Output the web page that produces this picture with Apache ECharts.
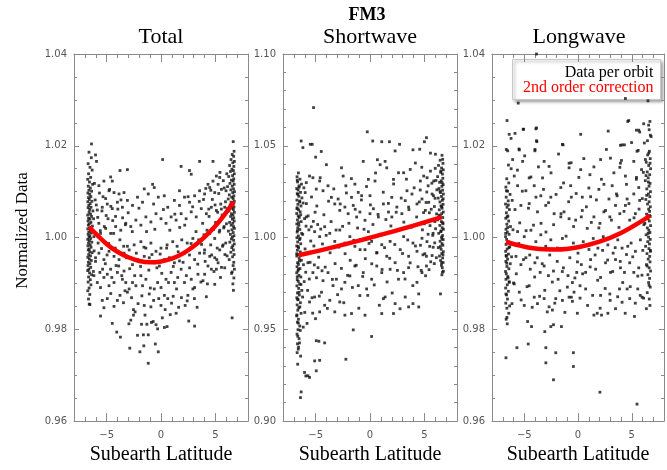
<!DOCTYPE html>
<html>
<head>
<meta charset="utf-8">
<script src="https://cdn.jsdelivr.net/npm/echarts@6/dist/echarts.min.js"></script>
<style>
  html, body { margin: 0; padding: 0; background: #fff; }
  #chart { width: 667px; height: 470px; }
</style>
</head>
<body>
<div id="chart"></div>
<script>
// ---- data -------------------------------------------------------------
const panelTitles = ['Total', 'Shortwave', 'Longwave'];
const latMajorTicks = [-5, 0, 5];
const yRanges = [
  { min: 0.96, max: 1.04, step: 0.02, minor: 4 },
  { min: 0.90, max: 1.10, step: 0.05, minor: 5 },
  { min: 0.96, max: 1.04, step: 0.02, minor: 4 }
];

// per-orbit normalized total
const totalPts = [
  [-6.62,1.0186],[-6.41,1.0174],[-6.70,1.0161],[-6.53,1.0153],[-6.33,1.0147],[-6.66,1.0139],[-6.47,1.0131],[-6.74,1.0127],
  [-6.58,1.0121],[-6.29,1.0116],[-6.69,1.0112],[-6.50,1.0108],[-6.63,1.0103],[-6.38,1.0101],[-6.72,1.0097],[-6.55,1.0094],
  [-6.45,1.0089],[-6.67,1.0087],[-6.59,1.0083],[-6.35,1.0079],[-6.73,1.0078],[-6.51,1.0074],[-6.64,1.0070],[-6.43,1.0066],
  [-6.70,1.0065],[-6.56,1.0061],[-6.26,1.0058],[-6.61,1.0055],[-6.48,1.0051],[-6.74,1.0049],[-6.39,1.0046],[-6.66,1.0042],
  [-6.53,1.0040],[-6.71,1.0036],[-6.44,1.0033],[-6.60,1.0030],[-6.68,1.0027],[-6.31,1.0025],[-6.57,1.0021],[-6.73,1.0019],
  [-6.49,1.0016],[-6.64,1.0012],[-6.40,1.0010],[-6.70,1.0007],[-6.54,1.0004],[-6.62,1.0001],[-6.46,0.9998],[-6.74,0.9996],
  [-6.58,0.9993],[-6.36,0.9990],[-6.67,0.9988],[-6.51,0.9984],[-6.72,0.9982],[-6.43,0.9979],[-6.60,0.9975],[-6.69,0.9973],
  [-6.55,0.9969],[-6.33,0.9967],[-6.65,0.9963],[-6.48,0.9960],[-6.73,0.9957],[-6.59,0.9953],[-6.41,0.9950],[-6.68,0.9946],
  [-6.53,0.9943],[-6.71,0.9939],[-6.46,0.9935],[-6.63,0.9931],[-6.74,0.9928],[-6.57,0.9923],[-6.38,0.9919],[-6.66,0.9914],
  [-6.50,0.9908],[-6.70,0.9903],[-6.44,0.9897],[-6.61,0.9890],[-6.73,0.9884],[-6.55,0.9876],[-6.67,0.9866],[-6.60,0.9855],
  [-6.12,1.0118],[-6.05,1.0082],[-6.20,1.0041],[-5.98,1.0009],[-6.15,0.9971],[-6.02,0.9948],[-6.22,0.9926],[-6.39,1.0204],
  [-6.02,1.0180],[-5.93,1.0166],
  [-1.17,0.9726],[-0.25,0.9751],[-1.94,0.9751],[-2.87,0.9759],[-3.73,0.9783],[-4.07,0.9794],[-4.48,0.9813],[-2.16,0.9787],
  [-1.17,0.9788],[-1.30,0.9811],[-1.79,0.9811],[-0.46,0.9810],[-0.31,0.9801],[0.31,0.9804],[0.56,0.9806],[3.09,0.9807],
  [6.54,0.9825],[-6.54,0.9854],[-5.56,0.9829],[-4.32,0.9850],[-2.78,0.9820],[-2.53,0.9831],[-2.53,0.9843],[-1.54,0.9852],
  [-0.93,0.9849],[-0.68,0.9863],[0.00,0.9852],[0.31,0.9874],[0.62,0.9867],[1.39,0.9835],[2.22,0.9852],[2.41,0.9862],
  [2.47,0.9874],[2.93,0.9888],[3.09,0.9891],[4.17,0.9871],[4.94,0.9898],[4.63,0.9931],[5.56,0.9935],[5.86,0.9934],
  [6.54,0.9925],[-5.25,0.9847],[-5.40,0.9863],[-4.94,0.9867],[-4.01,0.9863],[-3.77,0.9874],[-3.09,0.9881],[-2.93,0.9888],
  [-2.62,0.9902],[-2.31,0.9895],[-3.24,0.9902],[-3.55,0.9909],[-4.32,0.9902],[-4.78,0.9895],[-5.56,0.9891],[-5.86,0.9902],
  [-6.17,0.9917],[-5.62,0.9924],[-4.94,0.9920],[-5.25,0.9913],[-4.63,0.9931],[-4.01,0.9924],[-3.40,0.9927],[-1.85,0.9917],
  [-1.39,0.9909],[-1.70,0.9895],[-1.08,0.9877],[-0.62,0.9888],[-0.31,0.9902],[0.00,0.9891],[0.46,0.9909],[1.23,0.9902],
  [1.54,0.9913],[2.16,0.9902],[0.93,0.9924],[1.85,0.9931],[2.78,0.9909],[3.40,0.9920],[3.86,0.9906],[4.01,0.9920],
  [4.32,0.9938],[5.09,0.9931],[5.25,0.9945],
  [-2.62,0.9941],[-2.16,0.9952],[-1.54,0.9959],[-1.08,0.9956],[-0.62,0.9945],[-0.15,0.9938],[0.31,0.9952],[0.77,0.9956],
  [1.23,0.9945],[1.70,0.9949],[2.16,0.9966],[2.62,0.9962],[3.09,0.9952],[3.55,0.9966],[4.01,0.9973],[4.48,0.9959],
  [4.94,0.9956],[5.40,0.9973],[5.71,0.9984],[-4.32,0.9959],[-3.86,0.9952],[-3.40,0.9966],[-2.93,0.9973],[-4.78,0.9970],
  [-5.25,0.9952],[-5.71,0.9966],[-6.02,0.9956],[-3.09,0.9981],[-2.47,0.9984],[-1.85,0.9991],[-1.39,0.9977],[-0.93,0.9988],
  [-0.46,0.9970],[0.00,0.9977],[0.56,0.9984],[1.08,0.9991],[1.48,0.9981],[1.91,0.9995],[2.41,0.9988],[2.93,0.9998],
  [3.46,0.9995],[3.95,1.0006],[4.48,1.0009],[4.94,0.9998],[5.40,1.0016],[5.80,1.0024],
  [-6.17,1.0002],[-5.56,1.0009],[-5.09,1.0020],[-4.63,1.0009],[-4.17,1.0024],[-3.70,1.0016],[-3.24,1.0031],[-2.78,1.0024],
  [-2.31,1.0038],[-1.85,1.0027],[-1.39,1.0045],[-0.93,1.0034],[-0.46,1.0052],[0.00,1.0041],[0.46,1.0031],[0.93,1.0045],
  [1.39,1.0038],[1.85,1.0052],[2.31,1.0041],[2.78,1.0056],[3.24,1.0045],[3.70,1.0063],[4.17,1.0052],[4.63,1.0066],
  [5.09,1.0059],[5.49,1.0073],[5.86,1.0066],[-5.86,1.0060],[-5.40,1.0066],[-4.94,1.0073],[-4.48,1.0063],[-4.01,1.0077],
  [-3.55,1.0066],[-3.09,1.0081],[-2.62,1.0070],[-2.16,1.0088],[-1.70,1.0077],[-1.17,1.0095],[-0.68,1.0073],[-0.25,1.0088],
  [0.62,1.0066],[1.23,1.0081],[1.70,1.0070],[2.16,1.0088],[2.62,1.0077],[3.09,1.0091],[3.55,1.0102],[4.01,1.0095],
  [4.48,1.0109],[4.94,1.0098],[5.25,1.0116],[5.56,1.0105],[-5.71,1.0113],[-5.25,1.0123],[-4.78,1.0102],[-4.32,1.0098],
  [-3.86,1.0095],[-3.40,1.0098],[-1.54,1.0106],[-0.77,1.0116],[-0.62,1.0109],[1.70,1.0102],[2.78,1.0138],[2.62,1.0146],
  [4.32,1.0116],[4.78,1.0123],[5.09,1.0134],[5.40,1.0131],[0.15,1.0170],[3.55,1.0166],[4.78,1.0166],[1.85,1.0155],
  [-3.77,1.0146],[-3.09,1.0148],[-4.63,1.0132],[-4.48,1.0123],[0.30,1.0091],
  [-5.72,1.0031],[-5.47,0.9976],[-5.33,1.0089],[-5.12,0.9943],[-5.04,1.0048],[-4.81,0.9987],[-4.73,1.0105],[-4.52,0.9913],
  [-4.44,1.0037],[-4.21,0.9977],[-4.13,0.9939],[-3.97,1.0062],[-3.78,0.9995],[-3.61,0.9917],[-3.53,1.0043],[-3.31,0.9884],
  [-3.18,0.9956],[-3.02,1.0054],[-2.88,0.9932],[-2.71,0.9869],[-2.64,1.0013],[-2.42,0.9917],[-2.27,0.9966],[-2.11,0.9856],
  [-2.03,1.0064],[-1.88,0.9937],[-1.76,0.9873],[-1.57,0.9979],[-1.47,0.9831],[-1.33,1.0013],[-1.12,0.9929],[-0.98,0.9890],
  [-0.83,0.9963],[-0.72,0.9817],[-0.57,1.0018],[-0.38,0.9934],[-0.21,0.9867],[-0.08,0.9964],[0.07,0.9922],[0.22,1.0061],
  [0.38,0.9843],[0.52,0.9977],[0.69,0.9902],[0.81,1.0016],[0.97,0.9857],[1.13,0.9937],[1.27,1.0051],[1.43,0.9888],
  [1.58,0.9969],[1.72,1.0022],[1.88,0.9869],[2.03,0.9946],[2.18,1.0027],[2.33,0.9917],[2.49,1.0089],[2.63,0.9934],
  [2.77,0.9987],[2.91,1.0067],[3.07,0.9867],[3.22,1.0013],[3.38,0.9942],[3.52,1.0079],[3.67,0.9903],[3.83,1.0031],
  [3.98,0.9966],[4.12,1.0107],[4.27,0.9899],[4.42,1.0046],[4.57,0.9984],[4.72,1.0083],[4.87,0.9926],[5.02,1.0033],
  [5.17,0.9977],[5.31,1.0096],[5.47,0.9913],[5.62,1.0049],[5.73,1.0124],[5.88,0.9963],
  [-5.95,1.0071],[-5.82,1.0044],[-5.78,0.9988],[-5.66,1.0097],[-5.58,1.0015],[-5.43,1.0058],[-5.37,0.9931],[-5.21,1.0024],
  [-5.09,1.0085],[-4.96,0.9962],[-4.87,1.0041],[-4.61,1.0068],[-4.36,1.0009],[-4.18,1.0046],[-3.89,0.9938],[-3.68,1.0082],
  [-3.43,0.9981],[-3.27,1.0028],
  [5.93,1.0078],[5.81,1.0108],[5.77,1.0021],[5.66,0.9981],[5.55,1.0062],[5.42,1.0142],[5.36,1.0012],[5.21,1.0055],
  [5.13,0.9952],[4.97,1.0071],[4.83,1.0018],[4.66,0.9962],[4.58,1.0103],[4.39,1.0062],[4.23,1.0016],[4.06,0.9948],
  [3.91,1.0083],[3.73,0.9985],
  [-3.45,0.9858],[-2.95,0.9812],[-2.38,0.9838],[-1.62,0.9788],[-0.88,0.9815],[0.12,0.9825],[0.85,0.9832],[1.62,0.9848],
  [2.55,0.9818],[3.32,0.9848],[-4.62,0.9878],[-0.52,0.9768],[-1.58,0.9764],[1.12,0.9872],
  [6.64,1.0209],[6.72,1.0188],[6.55,1.0181],[6.68,1.0177],[6.44,1.0170],[6.75,1.0166],[6.60,1.0163],[6.31,1.0157],
  [6.70,1.0155],[6.52,1.0149],[6.66,1.0146],[6.39,1.0144],[6.74,1.0139],[6.58,1.0135],[6.23,1.0133],[6.69,1.0128],
  [6.47,1.0125],[6.63,1.0123],[6.34,1.0118],[6.73,1.0116],[6.55,1.0112],[6.12,1.0111],[6.67,1.0106],[6.42,1.0104],
  [6.76,1.0100],[6.59,1.0098],[6.28,1.0093],[6.70,1.0091],[6.50,1.0088],[6.64,1.0085],[6.18,1.0084],[6.74,1.0079],
  [6.44,1.0077],[6.61,1.0073],[6.36,1.0071],[6.71,1.0067],[6.53,1.0064],[6.66,1.0061],[6.25,1.0058],[6.75,1.0055],
  [6.48,1.0052],[6.62,1.0049],[6.40,1.0046],[6.69,1.0043],[6.56,1.0040],[6.73,1.0036],[6.31,1.0033],[6.60,1.0031],
  [6.45,1.0027],[6.67,1.0024],[6.75,1.0020],[6.52,1.0017],[6.20,1.0014],[6.64,1.0011],[6.38,1.0007],[6.71,1.0004],
  [6.57,1.0001],[6.47,0.9997],[6.68,0.9994],[6.33,0.9990],[6.74,0.9986],[6.60,0.9982],[6.51,0.9978],[6.66,0.9973],
  [6.42,0.9968],[6.72,0.9963],[6.58,0.9958],[6.27,0.9952],[6.69,0.9946],[6.63,0.9939],[6.75,0.9931],[6.49,0.9922],
  [6.70,0.9912],[6.61,0.9899],[6.66,0.9885],[6.05,1.0139],[5.98,1.0102],[6.10,1.0063],[6.02,1.0030],[5.95,0.9988],
  [6.08,0.9960]
];

// per-orbit normalized shortwave
const shortPts = [
  [-6.58,1.0352],[-6.71,1.0331],[-6.44,1.0318],[-6.66,1.0303],[-6.30,1.0291],[-6.52,1.0282],[-6.74,1.0267],[-6.61,1.0259],
  [-6.39,1.0246],[-6.69,1.0239],[-6.55,1.0225],[-6.26,1.0216],[-6.72,1.0204],[-6.47,1.0194],[-6.63,1.0181],[-6.35,1.0172],
  [-6.70,1.0162],[-6.57,1.0151],[-6.42,1.0140],[-6.74,1.0131],[-6.60,1.0117],[-6.50,1.0110],[-6.67,1.0096],[-6.33,1.0087],
  [-6.73,1.0074],[-6.54,1.0067],[-6.64,1.0053],[-6.45,1.0044],[-6.70,1.0030],[-6.28,1.0023],[-6.59,1.0009],[-6.72,0.9999],
  [-6.48,0.9989],[-6.65,0.9976],[-6.37,0.9966],[-6.74,0.9954],[-6.56,0.9944],[-6.68,0.9931],[-6.41,0.9922],[-6.62,0.9908],
  [-6.73,0.9899],[-6.51,0.9886],[-6.31,0.9876],[-6.66,0.9863],[-6.58,0.9854],[-6.71,0.9841],[-6.44,0.9831],[-6.63,0.9818],
  [-6.74,0.9808],[-6.53,0.9794],[-6.36,0.9785],[-6.69,0.9771],[-6.60,0.9761],[-6.47,0.9747],[-6.72,0.9737],[-6.56,0.9723],
  [-6.27,0.9712],[-6.67,0.9698],[-6.50,0.9687],[-6.73,0.9672],[-6.61,0.9661],[-6.40,0.9645],[-6.70,0.9633],[-6.55,0.9617],
  [-6.64,0.9604],[-6.34,0.9587],[-6.74,0.9573],[-6.58,0.9555],[-6.68,0.9539],[-6.46,0.9518],[-6.62,0.9498],[-6.71,0.9474],
  [-6.52,0.9449],[-6.67,0.9421],[-6.60,0.9392],[-6.38,0.9354],[-6.65,0.9310],[-6.48,0.9426],[-6.33,0.9159],[-6.39,0.9128],
  [-6.69,1.0312],[-6.52,1.0274],[-6.63,1.0236],[-6.46,1.0199],[-6.71,1.0157],[-6.37,1.0124],[-6.56,1.0081],[-6.67,1.0038],
  [-6.43,0.9996],[-6.61,0.9951],[-6.74,0.9912],[-6.49,0.9872],[-6.58,0.9827],[-6.69,0.9786],[-6.35,0.9744],[-6.53,0.9702],
  [-6.66,0.9664],[-6.45,0.9622],[-6.72,0.9578],[-6.59,0.9534],[-6.41,0.9494],[-6.64,0.9462],[-6.57,0.9403],[-6.70,0.9373],
  [-6.08,1.0271],[-6.15,1.0188],[-6.02,1.0103],[-6.19,1.0017],[-5.97,0.9938],[-6.12,0.9852],[-6.05,0.9760],[-6.20,0.9676],
  [-6.00,0.9592],[-6.14,0.9512],[-6.02,0.9265],[-5.90,0.9246],
  [-6.33,1.0526],[-6.17,1.0490],[-5.49,1.0508],[-5.31,1.0508],[-5.00,1.0438],[-4.48,1.0469],[-0.25,1.0576],[0.25,1.0526],
  [1.08,1.0522],[1.79,1.0522],[2.31,1.0472],[2.72,1.0508],[3.95,1.0478],[4.57,1.0481],[5.00,1.0522],[5.19,1.0544],
  [5.56,1.0460],[6.02,1.0454],[-5.19,1.0708],
  [-4.01,1.0397],[-2.62,1.0380],[-2.47,1.0335],[-2.22,1.0282],[-1.70,1.0219],[-1.39,1.0291],[-1.08,1.0246],[-0.77,1.0228],
  [-0.62,1.0415],[-0.15,1.0317],[0.00,1.0228],[0.46,1.0308],[0.68,1.0424],[0.93,1.0397],[1.39,1.0415],[1.54,1.0380],
  [2.00,1.0219],[2.16,1.0317],[2.62,1.0353],[3.09,1.0353],[3.40,1.0255],[3.70,1.0371],[4.17,1.0406],[4.63,1.0308],
  [4.94,1.0335],[5.25,1.0326],[5.56,1.0362],[5.86,1.0308],
  [-5.56,1.0335],[-5.86,1.0299],[-5.25,1.0326],[-4.94,1.0264],[-4.63,1.0308],[-4.32,1.0255],[-3.86,1.0282],[-3.55,1.0219],
  [-3.24,1.0183],[-2.93,1.0210],[-2.78,1.0148],[-2.31,1.0166],[-2.01,1.0130],[-1.54,1.0175],[-1.23,1.0112],[-0.93,1.0139],
  [-0.46,1.0094],[0.00,1.0130],[0.31,1.0157],[0.77,1.0112],[1.23,1.0183],[1.70,1.0139],[2.01,1.0112],[2.47,1.0166],
  [2.93,1.0130],[3.24,1.0201],[3.55,1.0166],[3.86,1.0237],[4.32,1.0183],[4.78,1.0210],[5.09,1.0148],[5.40,1.0192],
  [5.71,1.0237],
  [-5.86,1.0112],[-5.40,1.0059],[-5.09,1.0032],[-4.63,1.0005],[-4.17,1.0059],[-3.70,1.0023],[-3.24,0.9979],[-2.78,1.0041],
  [-2.31,0.9970],[-1.85,1.0005],[-1.39,0.9952],[-0.93,0.9988],[-0.46,0.9934],[-0.15,1.0032],[0.15,0.9979],[0.62,0.9916],
  [1.08,0.9961],[1.54,0.9898],[1.85,0.9979],[2.31,0.9863],[2.78,0.9934],[3.09,1.0005],[3.55,0.9898],[3.95,0.9970],
  [4.32,0.9925],[4.78,0.9996],[5.19,0.9898],[5.49,0.9952],[5.80,1.0023],
  [-5.71,0.9863],[-5.25,0.9809],[-4.78,0.9836],[-4.32,0.9765],[-3.86,0.9809],[-3.40,0.9738],[-3.09,0.9773],[-2.62,0.9720],
  [-2.31,0.9756],[-1.85,0.9791],[-1.39,0.9845],[-1.08,0.9738],[-0.62,0.9809],[-0.31,0.9720],[0.15,0.9773],[0.62,0.9845],
  [1.08,0.9809],[1.39,0.9676],[1.85,0.9827],[2.31,0.9640],[2.62,0.9773],[3.09,0.9809],[3.55,0.9836],[3.95,0.9640],
  [4.32,0.9756],[4.48,0.9693],[4.48,0.9622],[4.78,0.9809],[5.19,0.9845],[6.48,0.9693],
  [-5.56,0.9649],[-5.09,0.9676],[-4.63,0.9595],[-4.17,0.9631],[-3.70,0.9658],[-3.24,0.9595],[-2.78,0.9649],[-2.31,0.9577],
  [-1.70,0.9586],[-0.93,0.9684],[-0.46,0.9577],[1.08,0.9586],[1.23,0.9667],[2.16,0.9586],[3.24,0.9676],[3.55,0.9622],
  [-1.54,0.9497],[0.15,0.9461],[-4.94,0.9438],[-4.70,0.9435],[-4.17,0.9426],[-5.09,0.9328],[-4.63,0.9331],[-2.22,0.9337],
  [-5.71,0.9247],[-5.56,0.9238],[-4.94,0.9274],
  [-5.85,1.0185],[-5.74,0.9712],[-5.62,1.0042],[-5.51,0.9865],[-5.38,1.0221],[-5.27,0.9588],[-5.16,0.9954],[-5.05,1.0138],
  [-4.92,0.9781],[-4.81,1.0071],[-4.72,0.9893],[-4.58,1.0326],[-4.46,0.9702],[-4.37,0.9965],[-4.24,1.0124],[-4.12,0.9839],
  [-4.03,1.0012],[-3.92,0.9614],[-3.81,1.0198],[-3.67,0.9917],[-3.58,1.0087],[-3.46,0.9772],[-3.33,1.0265],[-3.21,0.9858],
  [-3.12,1.0041],[-2.98,0.9689],[-2.87,0.9948],[-2.74,1.0183],[-2.63,0.9832],[-2.52,1.0061],[-2.41,0.9645],[-2.29,0.9912],
  [-2.17,1.0243],[-2.06,0.9794],[-1.94,1.0078],[-1.82,0.9876],[-1.71,1.0321],[-1.62,0.9728],[-1.49,0.9985],[-1.36,1.0154],
  [-1.27,0.9849],[-1.14,1.0052],[-1.03,0.9615],[-0.91,0.9934],[-0.79,1.0205],[-0.67,0.9788],[-0.55,1.0045],[-0.43,0.9885],
  [-0.32,1.0278],[-0.21,0.9685],[-0.09,0.9968],[0.04,1.0178],[0.16,0.9857],[0.27,1.0071],[0.39,0.9742],[0.51,1.0352],
  [0.63,0.9918],[0.74,1.0126],[0.86,0.9631],[0.97,1.0018],[1.11,0.9826],[1.22,1.0247],[1.34,0.9945],[1.46,1.0098],
  [1.57,0.9758],[1.69,1.0186],[1.81,0.9887],[1.92,1.0063],[2.04,0.9698],[2.17,1.0292],[2.28,0.9962],[2.41,1.0138],
  [2.52,0.9821],[2.64,1.0045],[2.76,0.9612],[2.87,1.0215],[2.99,0.9913],[3.11,1.0084],[3.22,0.9774],[3.35,1.0318],
  [3.47,0.9987],[3.58,1.0152],[3.69,0.9862],[3.82,1.0057],[3.94,0.9738],[4.06,1.0271],[4.18,0.9954],[4.29,1.0112],
  [4.41,0.9841],[4.53,1.0194],[4.64,0.9958],[4.76,1.0383],[4.87,0.9906],[4.99,1.0075],[5.11,0.9792],[5.22,1.0248],
  [5.34,1.0018],[5.46,1.0135],[5.58,0.9868],[5.69,1.0296],[5.81,0.9947],[5.92,1.0169],
  [-5.96,1.0245],[-5.91,0.9811],[-5.88,1.0062],[-5.79,0.9532],[-5.69,1.0118],[-5.58,0.9774],[-5.45,0.9981],[-5.33,0.9672],
  [-5.21,1.0088],[-5.12,0.9851],[-5.01,0.9558],[-4.89,1.0172],[-4.77,0.9927],[-4.66,0.9681],[-4.53,1.0046],[-4.41,0.9819],
  [5.96,1.0087],[5.91,0.9858],[5.84,1.0228],[5.77,1.0012],[5.71,0.9902],[5.63,1.0154],[5.52,1.0065],[5.43,0.9825],
  [5.35,1.0282],[5.24,0.9978],[5.16,1.0191],[5.04,0.9912],[4.93,1.0136],[4.82,1.0042],[4.71,0.9821],[4.62,1.0259],
  [6.62,1.0448],[6.45,1.0421],[6.71,1.0404],[6.30,1.0393],[6.58,1.0379],[6.74,1.0369],[6.50,1.0355],[6.66,1.0346],
  [6.22,1.0332],[6.70,1.0323],[6.55,1.0309],[6.40,1.0301],[6.73,1.0288],[6.61,1.0279],[6.34,1.0267],[6.68,1.0258],
  [6.48,1.0245],[6.75,1.0237],[6.57,1.0224],[6.27,1.0215],[6.65,1.0203],[6.43,1.0194],[6.72,1.0181],[6.53,1.0173],
  [6.63,1.0160],[6.37,1.0151],[6.74,1.0139],[6.59,1.0130],[6.46,1.0117],[6.69,1.0109],[6.20,1.0096],[6.56,1.0087],
  [6.71,1.0075],[6.42,1.0066],[6.64,1.0053],[6.75,1.0045],[6.51,1.0032],[6.32,1.0023],[6.67,1.0011],[6.58,1.0002],
  [6.73,0.9989],[6.45,0.9980],[6.62,0.9967],[6.70,0.9958],[6.28,0.9945],[6.54,0.9936],[6.74,0.9923],[6.60,0.9913],
  [6.39,0.9899],[6.68,0.9889],[6.49,0.9875],[6.72,0.9864],[6.57,0.9848],[6.65,0.9835],[6.75,0.9816],[6.61,0.9797],
  [6.68,1.0426],[6.51,1.0362],[6.64,1.0298],[6.44,1.0252],[6.73,1.0211],[6.59,1.0168],[6.35,1.0122],[6.69,1.0081],
  [6.54,1.0036],[6.62,0.9993],[6.47,0.9951],[6.71,0.9906],[6.58,0.9862],[6.66,0.9811],
  [6.06,1.0311],[5.98,1.0214],[6.12,1.0129],[6.03,1.0048],[5.95,0.9971],[6.10,0.9890],[6.00,1.0377],[6.15,1.0260]
];

// per-orbit normalized longwave
const longPts = [
  [-6.60,1.0255],[-6.23,1.0216],[-5.86,1.0227],[-5.06,1.0236],[-3.92,1.0237],[-3.83,1.0209],[0.25,1.0225],[2.81,1.0232],
  [4.63,1.0253],[5.43,1.0234],[5.74,1.0230],[6.11,1.0248],[6.57,1.0245],[6.73,1.0223],[-1.45,1.0203],[4.10,1.0202],
  [4.32,1.0202],[5.49,1.0188],[-3.86,1.0400],[-5.56,1.0293],[6.51,1.0298],[4.41,1.0303],[4.72,1.0255],[5.65,1.0234],
  [-3.86,1.0239],[-5.10,1.0236],[-6.40,1.0225],[-1.39,1.0202],[3.95,1.0201],[-3.86,1.0211],[-6.67,1.0192],[-5.49,1.0193],
  [-4.00,1.0192],[5.60,1.0190],[6.17,1.0206],[6.80,1.0220],
  [-6.54,1.0189],[-6.08,1.0170],[-5.46,1.0191],[-5.15,1.0166],[-4.01,1.0189],[-3.15,1.0166],[-2.69,1.0155],[-3.30,1.0130],
  [-5.93,1.0134],[-4.54,1.0130],[-0.83,1.0162],[-0.83,1.0152],[0.25,1.0148],[1.11,1.0137],[2.10,1.0170],[3.02,1.0173],
  [3.95,1.0162],[5.19,1.0166],[3.89,1.0153],[4.41,1.0134],[5.43,1.0127],[6.27,1.0170],
  [-5.62,1.0113],[-4.85,1.0102],[-4.07,1.0113],[-3.46,1.0091],[-2.53,1.0088],[-1.60,1.0109],[-0.68,1.0113],[-0.62,1.0088],
  [0.40,1.0088],[1.17,1.0089],[1.94,1.0105],[2.41,1.0116],[3.18,1.0113],[3.64,1.0091],[4.57,1.0084],[5.19,1.0095],
  [5.65,1.0109],
  [-5.31,1.0070],[-4.54,1.0074],[-3.77,1.0056],[-3.00,1.0070],[-2.22,1.0052],[-1.60,1.0045],[-1.30,1.0056],[-0.83,1.0041],
  [-0.22,1.0038],[0.40,1.0059],[0.86,1.0020],[1.48,1.0045],[2.04,1.0031],[2.56,1.0059],[2.96,1.0045],[3.49,1.0070],
  [3.89,1.0052],[4.41,1.0070],[4.81,1.0038],[5.34,1.0052],[5.74,1.0081],
  [-5.62,1.0013],[-5.00,1.0002],[-4.38,1.0016],[-3.92,0.9991],[-3.46,1.0006],[-3.00,0.9981],[-2.53,0.9995],[-1.91,0.9977],
  [-1.45,0.9998],[-0.99,0.9974],[-0.43,0.9988],[0.00,0.9966],[0.49,0.9991],[1.02,0.9974],[1.42,0.9998],[1.85,0.9977],
  [2.35,1.0002],[2.78,0.9984],[3.27,0.9966],[3.70,0.9995],[4.10,0.9977],[4.51,0.9963],[4.94,0.9988],[5.34,0.9970],
  [5.80,0.9995],
  [-5.77,0.9959],[-5.31,0.9941],[-4.85,0.9956],[-4.44,0.9931],[-4.01,0.9945],[-3.52,0.9924],[-3.15,0.9938],[-2.75,0.9917],
  [-2.28,0.9927],[-1.85,0.9909],[-1.36,0.9934],[-0.93,0.9917],[-0.52,0.9902],[-0.12,0.9924],[0.31,0.9941],[0.71,0.9924],
  [1.17,0.9952],[1.64,0.9931],[2.10,0.9913],[2.56,0.9945],[3.02,0.9924],[3.49,0.9952],[3.95,0.9934],[4.32,0.9924],
  [4.81,0.9945],[5.19,0.9924],[5.65,0.9934],
  [-5.93,0.9899],[-5.46,0.9881],[-5.00,0.9852],[-4.54,0.9895],[-4.07,0.9870],[-3.77,0.9856],[-3.15,0.9867],[-2.69,0.9849],
  [-2.38,0.9842],[-2.07,0.9867],[-1.45,0.9863],[-0.83,0.9870],[-0.37,0.9881],[0.19,0.9895],[0.71,0.9888],[1.48,0.9831],
  [1.79,0.9835],[2.10,0.9874],[2.19,0.9831],[2.78,0.9835],[2.96,0.9877],[3.49,0.9845],[3.86,0.9888],[4.10,0.9859],
  [4.57,0.9888],[4.81,0.9867],[5.25,0.9828],[5.56,0.9888],[5.96,0.9870],[6.36,0.9845],
  [-4.69,0.9817],[-4.32,0.9806],[-2.53,0.9806],[-2.28,0.9810],[-1.54,0.9806],[-3.09,0.9795],[-0.06,0.9835],[-0.62,0.9870],
  [-6.70,0.9738],[-5.68,0.9760],[-4.63,0.9768],[-2.99,0.9760],[-2.99,0.9727],[-2.07,0.9749],[-2.28,0.9690],[-0.43,0.9749],
  [-0.43,0.9719],[2.04,0.9663],[5.49,0.9637],
  [-5.86,1.0061],[-5.74,0.9921],[-5.63,1.0147],[-5.51,0.9987],[-5.42,1.0032],[-5.29,0.9864],[-5.18,1.0101],[-5.07,0.9952],
  [-4.96,1.0178],[-4.83,1.0015],[-4.74,0.9893],[-4.61,1.0064],[-4.49,0.9962],[-4.38,1.0132],[-4.26,0.9848],[-4.14,1.0027],
  [-4.03,0.9914],[-3.91,1.0088],[-3.79,0.9956],[-3.68,1.0154],[-3.57,0.9872],[-3.44,1.0031],[-3.33,0.9943],[-3.21,1.0105],
  [-3.09,0.9885],[-2.98,1.0012],[-2.86,0.9838],[-2.74,1.0076],[-2.63,0.9962],[-2.51,1.0141],[-2.39,0.9903],[-2.27,1.0028],
  [-2.16,0.9857],[-2.04,1.0094],[-1.93,0.9948],[-1.81,1.0182],[-1.69,0.9884],[-1.58,1.0052],[-1.46,0.9926],[-1.34,1.0119],
  [-1.22,0.9837],[-1.11,1.0003],[-0.99,0.9892],[-0.87,1.0078],[-0.76,0.9956],[-0.64,1.0163],[-0.52,0.9861],[-0.41,1.0024],
  [-0.29,0.9912],[-0.17,1.0096],[-0.05,0.9947],[0.08,1.0131],[0.19,0.9868],[0.31,1.0045],[0.43,0.9921],[0.54,1.0172],
  [0.66,0.9983],[0.78,1.0067],[0.89,0.9852],[1.01,1.0108],[1.13,0.9936],[1.24,1.0033],[1.36,0.9874],[1.48,1.0154],
  [1.59,0.9962],[1.71,1.0082],[1.83,0.9907],[1.94,1.0021],[2.06,0.9846],[2.18,1.0127],[2.29,0.9972],[2.41,1.0056],
  [2.53,0.9889],[2.64,1.0192],[2.76,0.9951],[2.88,1.0084],[2.99,0.9863],[3.11,1.0038],[3.23,0.9926],[3.34,1.0141],
  [3.46,0.9978],[3.58,1.0095],[3.69,0.9871],[3.81,1.0022],[3.93,0.9948],[4.04,1.0168],[4.16,0.9902],[4.28,1.0057],
  [4.39,0.9835],[4.51,1.0116],[4.63,0.9981],[4.74,1.0074],[4.86,0.9893],[4.98,1.0207],[5.09,0.9958],[5.21,1.0043],
  [5.33,0.9857],[5.44,1.0131],[5.56,0.9916],[5.68,1.0062],[5.79,0.9874],[5.91,1.0148],
  [-6.63,1.0128],[-6.44,1.0119],[-6.71,1.0110],[-6.55,1.0101],[-6.32,1.0094],[-6.68,1.0088],[-6.49,1.0080],[-6.74,1.0073],
  [-6.60,1.0066],[-6.38,1.0061],[-6.66,1.0054],[-6.52,1.0047],[-6.72,1.0042],[-6.45,1.0036],[-6.62,1.0029],[-6.28,1.0024],
  [-6.70,1.0018],[-6.57,1.0012],[-6.41,1.0007],[-6.74,1.0002],[-6.64,0.9996],[-6.50,0.9991],[-6.69,0.9985],[-6.35,0.9980],
  [-6.59,0.9975],[-6.73,0.9970],[-6.47,0.9964],[-6.66,0.9959],[-6.55,0.9953],[-6.71,0.9948],[-6.30,0.9943],[-6.61,0.9937],
  [-6.43,0.9932],[-6.74,0.9926],[-6.67,0.9921],[-6.53,0.9915],[-6.70,0.9909],[-6.39,0.9903],[-6.58,0.9897],[-6.73,0.9890],
  [-6.48,0.9883],[-6.65,0.9875],[-6.56,0.9866],[-6.72,0.9857],[-6.62,0.9846],[-6.44,0.9835],[-6.68,0.9822],[-6.58,0.9812],
  [-6.66,1.0102],[-6.48,1.0071],[-6.59,1.0045],[-6.73,1.0009],[-6.42,0.9978],[-6.63,0.9944],[-6.51,0.9912],[-6.70,0.9877],
  [-6.36,0.9851],[-6.61,0.9826],[-6.47,1.0158],[-6.69,0.9961],[-6.55,1.0022],[-6.40,0.9903],
  [-6.12,1.0081],[-6.05,1.0017],[-6.18,0.9958],[-6.00,0.9901],[-6.14,0.9856],[-6.22,1.0150],
  [6.64,1.0188],[6.48,1.0180],[6.72,1.0172],[6.35,1.0164],[6.58,1.0157],[6.75,1.0150],[6.44,1.0143],[6.67,1.0137],
  [6.53,1.0130],[6.26,1.0124],[6.70,1.0118],[6.61,1.0112],[6.40,1.0106],[6.74,1.0100],[6.55,1.0095],[6.68,1.0089],
  [6.31,1.0083],[6.62,1.0078],[6.47,1.0073],[6.73,1.0067],[6.57,1.0062],[6.66,1.0057],[6.38,1.0051],[6.71,1.0046],
  [6.51,1.0041],[6.63,1.0036],[6.22,1.0031],[6.75,1.0026],[6.45,1.0021],[6.59,1.0016],[6.69,1.0011],[6.34,1.0006],
  [6.56,1.0001],[6.72,0.9996],[6.49,0.9991],[6.65,0.9986],[6.29,0.9981],[6.60,0.9976],[6.74,0.9970],[6.42,0.9965],
  [6.67,0.9959],[6.53,0.9953],[6.70,0.9947],[6.37,0.9941],[6.62,0.9934],[6.75,0.9927],[6.50,0.9919],[6.66,0.9911],
  [6.57,0.9902],[6.72,0.9892],[6.44,0.9880],[6.63,0.9866],[6.69,0.9852],
  [6.62,1.0235],[6.46,1.0211],[6.70,1.0162],[6.55,1.0121],[6.39,1.0092],[6.67,1.0048],[6.52,1.0009],[6.73,0.9972],
  [6.43,0.9938],[6.61,0.9896],[6.69,1.0253],[6.58,1.0184],[6.33,1.0135],
  [6.08,1.0142],[5.98,1.0085],[6.13,1.0028],[6.03,0.9972],[5.95,0.9918],[6.10,0.9868]
];

// second order correction curves
const totalFit = [[-6.6,1.0023],[-5,0.9986],[-4,0.9969],[-3,0.9957],[-2,0.9949],[-1,0.9946],[0,0.9948],[1,0.9954],[2,0.9965],[3,0.9981],[4,1.0001],[5,1.0025],[6,1.0055],[6.7,1.0078]];
const shortFit = [[-6.6,0.9903],[-4,0.9938],[-2,0.9968],[0,0.9999],[2,1.0031],[4,1.0065],[6.6,1.0111]];
const longFit = [[-6.7,0.9991],[-6,0.9986],[-4,0.9976],[-2,0.9974],[0,0.9979],[2,0.9991],[4,1.0010],[6,1.0037],[6.7,1.0048]];

const scatterSets = [totalPts, shortPts, longPts];
const fitSets = [totalFit, shortFit, longFit];

// ---- layout ------------------------------------------------------------
const gridLeft = [74, 283, 492];
const axisColor = '#8a8a8a';
const serif = 'Liberation Serif, Times New Roman, serif';
const sans = 'DejaVu Sans, sans-serif';

function latLabel(v) {
  if (v % 5 !== 0) return '';
  return v < 0 ? '\u2212' + (-v) : String(v);
}

const grids = [], xAxes = [], yAxes = [], series = [], titles = [];

titles.push({
  text: 'FM3', left: 367, top: 6, textAlign: 'center', padding: 0,
  textStyle: { fontFamily: serif, fontWeight: 'bold', fontSize: 18, color: '#000' }
});

for (let i = 0; i < 3; i++) {
  grids.push({ left: gridLeft[i], top: 54, width: 174, height: 374 });
  titles.push({
    text: panelTitles[i], left: gridLeft[i] + 87, top: 26, textAlign: 'center', padding: 0,
    textStyle: { fontFamily: serif, fontWeight: 'normal', fontSize: 22, color: '#000' }
  });

  const baseX = { gridIndex: i, type: 'value', min: -8, max: 8, splitLine: { show: false } };
  const lineOn = { show: true, onZero: false, lineStyle: { color: axisColor, width: 1 } };
  const lineOff = { show: false, onZero: false };
  // minor ticks, bottom (carries labels and title)
  xAxes.push(Object.assign({}, baseX, {
    position: 'bottom', interval: 1,
    axisLine: lineOn,
    axisTick: { show: true, inside: true, length: 4, lineStyle: { color: axisColor } },
    axisLabel: { show: true, formatter: latLabel, color: '#555', fontFamily: sans, fontSize: 10, margin: 9 },
    name: 'Subearth Latitude', nameLocation: 'middle', nameGap: 21,
    nameTextStyle: { fontFamily: serif, fontSize: 20, color: '#000' }
  }));
  // major ticks, bottom
  xAxes.push(Object.assign({}, baseX, {
    position: 'bottom',
    axisLine: lineOff,
    axisTick: { show: true, inside: true, length: 8, customValues: latMajorTicks, lineStyle: { color: axisColor } },
    axisLabel: { show: false }
  }));
  // minor ticks, top
  xAxes.push(Object.assign({}, baseX, {
    position: 'top', interval: 1,
    axisLine: lineOn,
    axisTick: { show: true, inside: true, length: 4, lineStyle: { color: axisColor } },
    axisLabel: { show: false }
  }));
  // major ticks, top
  xAxes.push(Object.assign({}, baseX, {
    position: 'top',
    axisLine: lineOff,
    axisTick: { show: true, inside: true, length: 8, customValues: latMajorTicks, lineStyle: { color: axisColor } },
    axisLabel: { show: false }
  }));

  const r = yRanges[i];
  const baseY = {
    gridIndex: i, type: 'value', min: r.min, max: r.max, interval: r.step,
    splitLine: { show: false },
    axisLine: lineOn,
    axisTick: { show: true, inside: true, length: 5, lineStyle: { color: axisColor } },
    minorTick: { show: true, splitNumber: r.minor, length: 3, lineStyle: { color: axisColor } }
  };
  const leftY = Object.assign({}, baseY, {
    position: 'left',
    axisLabel: { show: true, formatter: v => v.toFixed(2), color: '#555', fontFamily: sans, fontSize: 10, margin: 7 }
  });
  if (i === 0) {
    Object.assign(leftY, {
      name: 'Normalized Data', nameLocation: 'middle', nameGap: 43, nameRotate: 90,
      nameTextStyle: { fontFamily: serif, fontSize: 17, color: '#000', padding: [0, 0, 0, 14] }
    });
  }
  yAxes.push(leftY);
  yAxes.push(Object.assign({}, baseY, { position: 'right', axisLabel: { show: false } }));

  series.push({
    name: 'Data per orbit', type: 'scatter', xAxisIndex: i * 4, yAxisIndex: i * 2,
    data: scatterSets[i], symbol: 'rect', symbolSize: 2.8,
    itemStyle: { color: '#111' }, silent: true, z: 2
  });
  series.push({
    name: '2nd order correction', type: 'line', xAxisIndex: i * 4, yAxisIndex: i * 2,
    data: fitSets[i], smooth: 0.4, showSymbol: false, symbol: 'none',
    lineStyle: { color: '#ff0000', width: 4.5 }, silent: true, z: 5
  });
}

const chart = echarts.init(document.getElementById('chart'), null, { renderer: 'canvas' });
chart.setOption({
  animation: false,
  backgroundColor: '#fff',
  title: titles,
  grid: grids,
  xAxis: xAxes,
  yAxis: yAxes,
  series: series,
  graphic: [{
    type: 'group', left: 512, top: 59, z: 100,
    children: [
      { type: 'rect', shape: { x: 0, y: 0, width: 148, height: 40 },
        style: { fill: '#fff', stroke: '#c8c8c8', lineWidth: 1,
                 shadowBlur: 3, shadowOffsetX: 2, shadowOffsetY: 2, shadowColor: 'rgba(0,0,0,0.35)' } },
      { type: 'text', x: 141, y: 13,
        style: { text: 'Data per orbit', fill: '#000', font: '16px ' + serif, textAlign: 'right', textVerticalAlign: 'middle' } },
      { type: 'text', x: 141, y: 28,
        style: { text: '2nd order correction', fill: '#ff0000', font: '16px ' + serif, textAlign: 'right', textVerticalAlign: 'middle' } }
    ]
  }]
});
</script>
</body>
</html>
